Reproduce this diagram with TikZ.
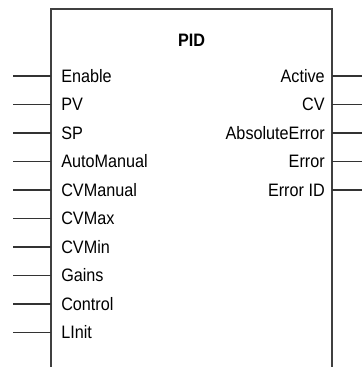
\documentclass[tikz,border=0pt]{standalone}
\usepackage{fontspec}
\setmainfont[FakeStretch=0.9]{Liberation Sans}
\usetikzlibrary{positioning,calc}
\begin{document}
\begin{tikzpicture}[
        x=0.75pt, y=-0.75pt,
        frame/.style={draw=black!75, line width=0.9pt},
        pin/.style={draw=black!80, line width=0.8pt},
        inlabel/.style={anchor=west, inner sep=0pt, text height=9.7pt, text depth=0pt, font=\fontsize{13.5}{16}\selectfont},
        outlabel/.style={inlabel, anchor=east},
        title/.style={inlabel, anchor=center, font=\fontsize{13.5}{16}\selectfont\bfseries}
    ]
        \useasboundingbox (0,0) rectangle (362,367);

        % Block outline (open at the bottom)
        \coordinate (bl) at (51,367);
        \coordinate (tl) at (51,9);
        \coordinate (tr) at (332,9);
        \coordinate (br) at (332,367);
        \draw[frame] (bl) -- (tl) -- (tr) -- (br);

        % Title
        \node[title] (pid) at (191.5,40) {PID};

        % Inputs
        \foreach \lab [count=\i] in {Enable,PV,SP,AutoManual,CVManual,CVMax,CVMin,Gains,Control,LInit}{
            \node[inlabel] (in\i) at (61,{76+28.5*(\i-1)}) {\lab};
            \coordinate (inpin\i) at (13,{76+28.5*(\i-1)});
            \draw[pin] (inpin\i) -- (in\i.west -| tl);
        }

        % Outputs
        \foreach \lab [count=\i] in {Active,CV,AbsoluteError,Error,Error ID}{
            \node[outlabel] (out\i) at (325,{76+28.5*(\i-1)}) {\lab};
            \coordinate (outpin\i) at (362,{76+28.5*(\i-1)});
            \draw[pin] (out\i.east -| tr) -- (outpin\i);
        }
    \end{tikzpicture}
\end{document}
